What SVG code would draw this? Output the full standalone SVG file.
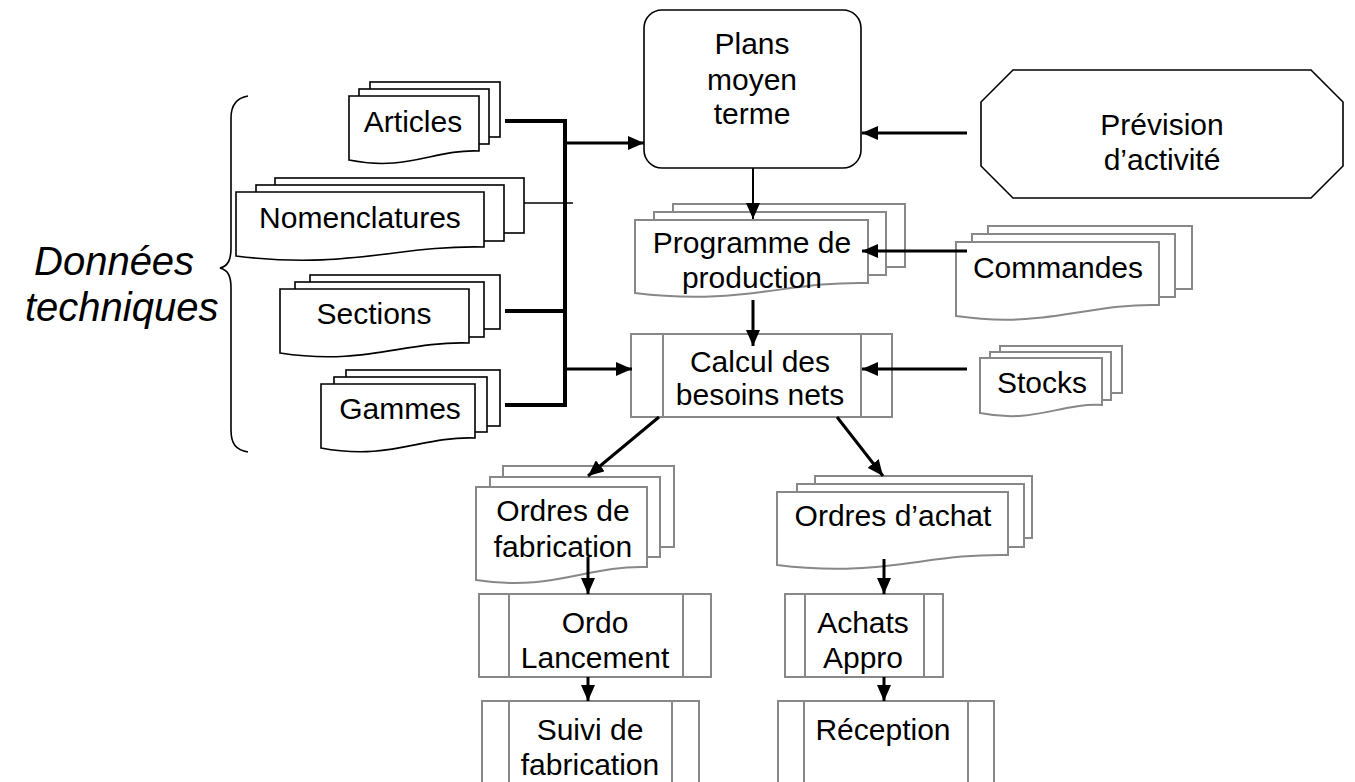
<svg xmlns="http://www.w3.org/2000/svg" width="1355" height="782" viewBox="0 0 1355 782">
  <style>
    .lbl { font-family: "Liberation Sans", Arial, sans-serif; font-size: 30px; fill: #000; text-anchor: middle; }
    .side { font-family: "Liberation Sans", Arial, sans-serif; font-size: 40px; font-style: italic; fill: #000; }
    .blk { fill: #fff; stroke: #000; stroke-width: 1.6; }
    .gry { fill: #fff; stroke: #888; stroke-width: 2; }
    .bus { stroke: #000; stroke-width: 4; fill: none; }
    .arr { stroke: #000; stroke-width: 3; fill: none; marker-end: url(#ah); }
    .arr2 { stroke: #000; stroke-width: 2; fill: none; marker-end: url(#ah); }
    .thin { stroke: #000; stroke-width: 1.5; fill: none; }
  </style>
  <defs>
    <marker id="ah" markerUnits="userSpaceOnUse" markerWidth="16" markerHeight="14" refX="16" refY="7" orient="auto">
      <path d="M0,0 L16,7 L0,14 Z" fill="#000"/>
    </marker>
  </defs>
  <rect width="1355" height="782" fill="#fff"/>

  <!-- Brace and side label -->
  <g id="donnees-techniques">
    <path d="M248,96 C236,98 231,106 231,118 L231,248 C231,260 228,266 220,268 C228,270 231,276 231,288 L231,430 C231,444 236,450 248,452" fill="none" stroke="#000" stroke-width="1.6"/>
    <text class="side" x="34" y="275">Données</text>
    <text class="side" x="25" y="321">techniques</text>
  </g>

  <!-- Technical data files -->
  <g id="articles">
    <rect class="blk" x="370" y="82" width="130" height="55"/>
    <rect class="blk" x="359" y="89" width="130" height="55"/>
    <path class="blk" d="M349,96 H479 V151 C434,149 407,172 349,160 Z"/>
    <text class="lbl" x="413" y="132">Articles</text>
  </g>
  <g id="nomenclatures">
    <rect class="blk" x="275" y="178" width="249" height="55"/>
    <rect class="blk" x="256" y="185" width="248" height="56"/>
    <path class="blk" d="M236,192 H484 V247 C397,245 348,270 236,256 Z"/>
    <text class="lbl" x="360" y="228">Nomenclatures</text>
  </g>
  <g id="sections">
    <rect class="blk" x="310" y="275" width="190" height="54"/>
    <rect class="blk" x="295" y="282" width="189" height="55"/>
    <path class="blk" d="M280,289 H469 V343 C403,341 365,366 280,353 Z"/>
    <text class="lbl" x="374" y="324">Sections</text>
  </g>
  <g id="gammes">
    <rect class="blk" x="346" y="370" width="154" height="56"/>
    <rect class="blk" x="334" y="377" width="153" height="55"/>
    <path class="blk" d="M321,384 H475 V438 C421,436 390,461 321,448 Z"/>
    <text class="lbl" x="400" y="419">Gammes</text>
  </g>

  <!-- Planning -->
  <g id="plans">
    <rect class="blk" x="644" y="10" width="217" height="158" rx="18" ry="18" stroke-width="1.8"/>
    <text class="lbl" x="752" y="54">Plans</text>
    <text class="lbl" x="752" y="90">moyen</text>
    <text class="lbl" x="752" y="124">terme</text>
  </g>
  <g id="prevision">
    <path class="blk" d="M1013,70 H1311 L1343,102 V166 L1311,198 H1013 L981,166 V102 Z"/>
    <text class="lbl" x="1162" y="135">Prévision</text>
    <text class="lbl" x="1162" y="170">d’activité</text>
  </g>
  <g id="programme">
    <rect class="gry" x="673" y="204" width="232" height="63"/>
    <rect class="gry" x="654" y="212" width="232" height="63"/>
    <path class="gry" d="M635,220 H868 V283 C787,281 740,306 635,293 Z"/>
    <text class="lbl" x="752" y="253">Programme de</text>
    <text class="lbl" x="752" y="288">production</text>
  </g>
  <g id="commandes">
    <rect class="gry" x="988" y="226" width="204" height="63"/>
    <rect class="gry" x="972" y="234" width="203" height="63"/>
    <path class="gry" d="M956,242 H1159 V305 C1088,303 1047,329 956,316 Z"/>
    <text class="lbl" x="1058" y="278">Commandes</text>
  </g>
  <g id="calcul">
    <rect class="gry" x="631" y="334" width="261" height="83"/>
    <line class="gry" x1="663" y1="334" x2="663" y2="417"/>
    <line class="gry" x1="861" y1="334" x2="861" y2="417"/>
    <text class="lbl" x="760" y="372">Calcul des</text>
    <text class="lbl" x="760" y="405">besoins nets</text>
  </g>
  <g id="stocks">
    <rect class="gry" x="1000" y="346" width="122" height="47"/>
    <rect class="gry" x="990" y="352" width="121" height="48"/>
    <path class="gry" d="M980,358 H1102 V405 C1059,403 1035,424 980,413 Z"/>
    <text class="lbl" x="1042" y="393">Stocks</text>
  </g>

  <!-- Orders -->
  <g id="ordres-fabrication">
    <rect class="gry" x="503" y="466" width="171" height="81"/>
    <rect class="gry" x="490" y="477" width="170" height="80"/>
    <path class="gry" d="M476,487 H647 V567 C587,565 553,592 476,580 Z"/>
    <text class="lbl" x="563" y="521">Ordres de</text>
    <text class="lbl" x="563" y="557">fabrication</text>
  </g>
  <g id="ordres-achat">
    <rect class="gry" x="815" y="476" width="217" height="62"/>
    <rect class="gry" x="797" y="484" width="227" height="63"/>
    <path class="gry" d="M777,492 H1008 V555 C927,553 881,578 777,565 Z"/>
    <text class="lbl" x="893" y="526">Ordres d’achat</text>
  </g>

  <!-- Execution -->
  <g id="ordo">
    <rect class="gry" x="479" y="594" width="232" height="83"/>
    <line class="gry" x1="509" y1="594" x2="509" y2="677"/>
    <line class="gry" x1="683" y1="594" x2="683" y2="677"/>
    <text class="lbl" x="595" y="633">Ordo</text>
    <text class="lbl" x="595" y="668">Lancement</text>
  </g>
  <g id="suivi">
    <rect class="gry" x="482" y="701" width="217" height="110"/>
    <line class="gry" x1="509" y1="701" x2="509" y2="790"/>
    <line class="gry" x1="672" y1="701" x2="672" y2="790"/>
    <text class="lbl" x="590" y="740">Suivi de</text>
    <text class="lbl" x="590" y="775">fabrication</text>
  </g>
  <g id="achats">
    <rect class="gry" x="785" y="594" width="158" height="83"/>
    <line class="gry" x1="805" y1="594" x2="805" y2="677"/>
    <line class="gry" x1="924" y1="594" x2="924" y2="677"/>
    <text class="lbl" x="863" y="633">Achats</text>
    <text class="lbl" x="863" y="668">Appro</text>
  </g>
  <g id="reception">
    <rect class="gry" x="778" y="701" width="216" height="110"/>
    <line class="gry" x1="804" y1="701" x2="804" y2="790"/>
    <line class="gry" x1="968" y1="701" x2="968" y2="790"/>
    <text class="lbl" x="883" y="740">Réception</text>
  </g>

  <!-- Connectors -->
  <g id="connectors">
    <path class="bus" d="M505,121 H565 V405 H505"/>
    <line class="bus" x1="505" y1="311" x2="565" y2="311"/>
    <line class="thin" x1="524" y1="203" x2="573" y2="203"/>
    <line class="arr" x1="565" y1="143" x2="644" y2="143"/>
    <line class="arr" x1="565" y1="369" x2="632" y2="369"/>
    <line class="arr" x1="967" y1="133" x2="862" y2="133"/>
    <line class="arr2" x1="753" y1="168" x2="753" y2="219"/>
    <line class="arr" x1="967" y1="251" x2="862" y2="251"/>
    <line class="arr" x1="753" y1="300" x2="753" y2="346"/>
    <line class="arr" x1="967" y1="369" x2="862" y2="369"/>
    <line class="arr" x1="659" y1="417" x2="588" y2="476"/>
    <line class="arr" x1="837" y1="417" x2="883" y2="476"/>
    <line class="arr" x1="588" y1="557" x2="588" y2="594"/>
    <line class="arr" x1="884" y1="559" x2="884" y2="594"/>
    <line class="arr" x1="588" y1="677" x2="588" y2="701"/>
    <line class="arr" x1="884" y1="677" x2="884" y2="701"/>
  </g>
</svg>
